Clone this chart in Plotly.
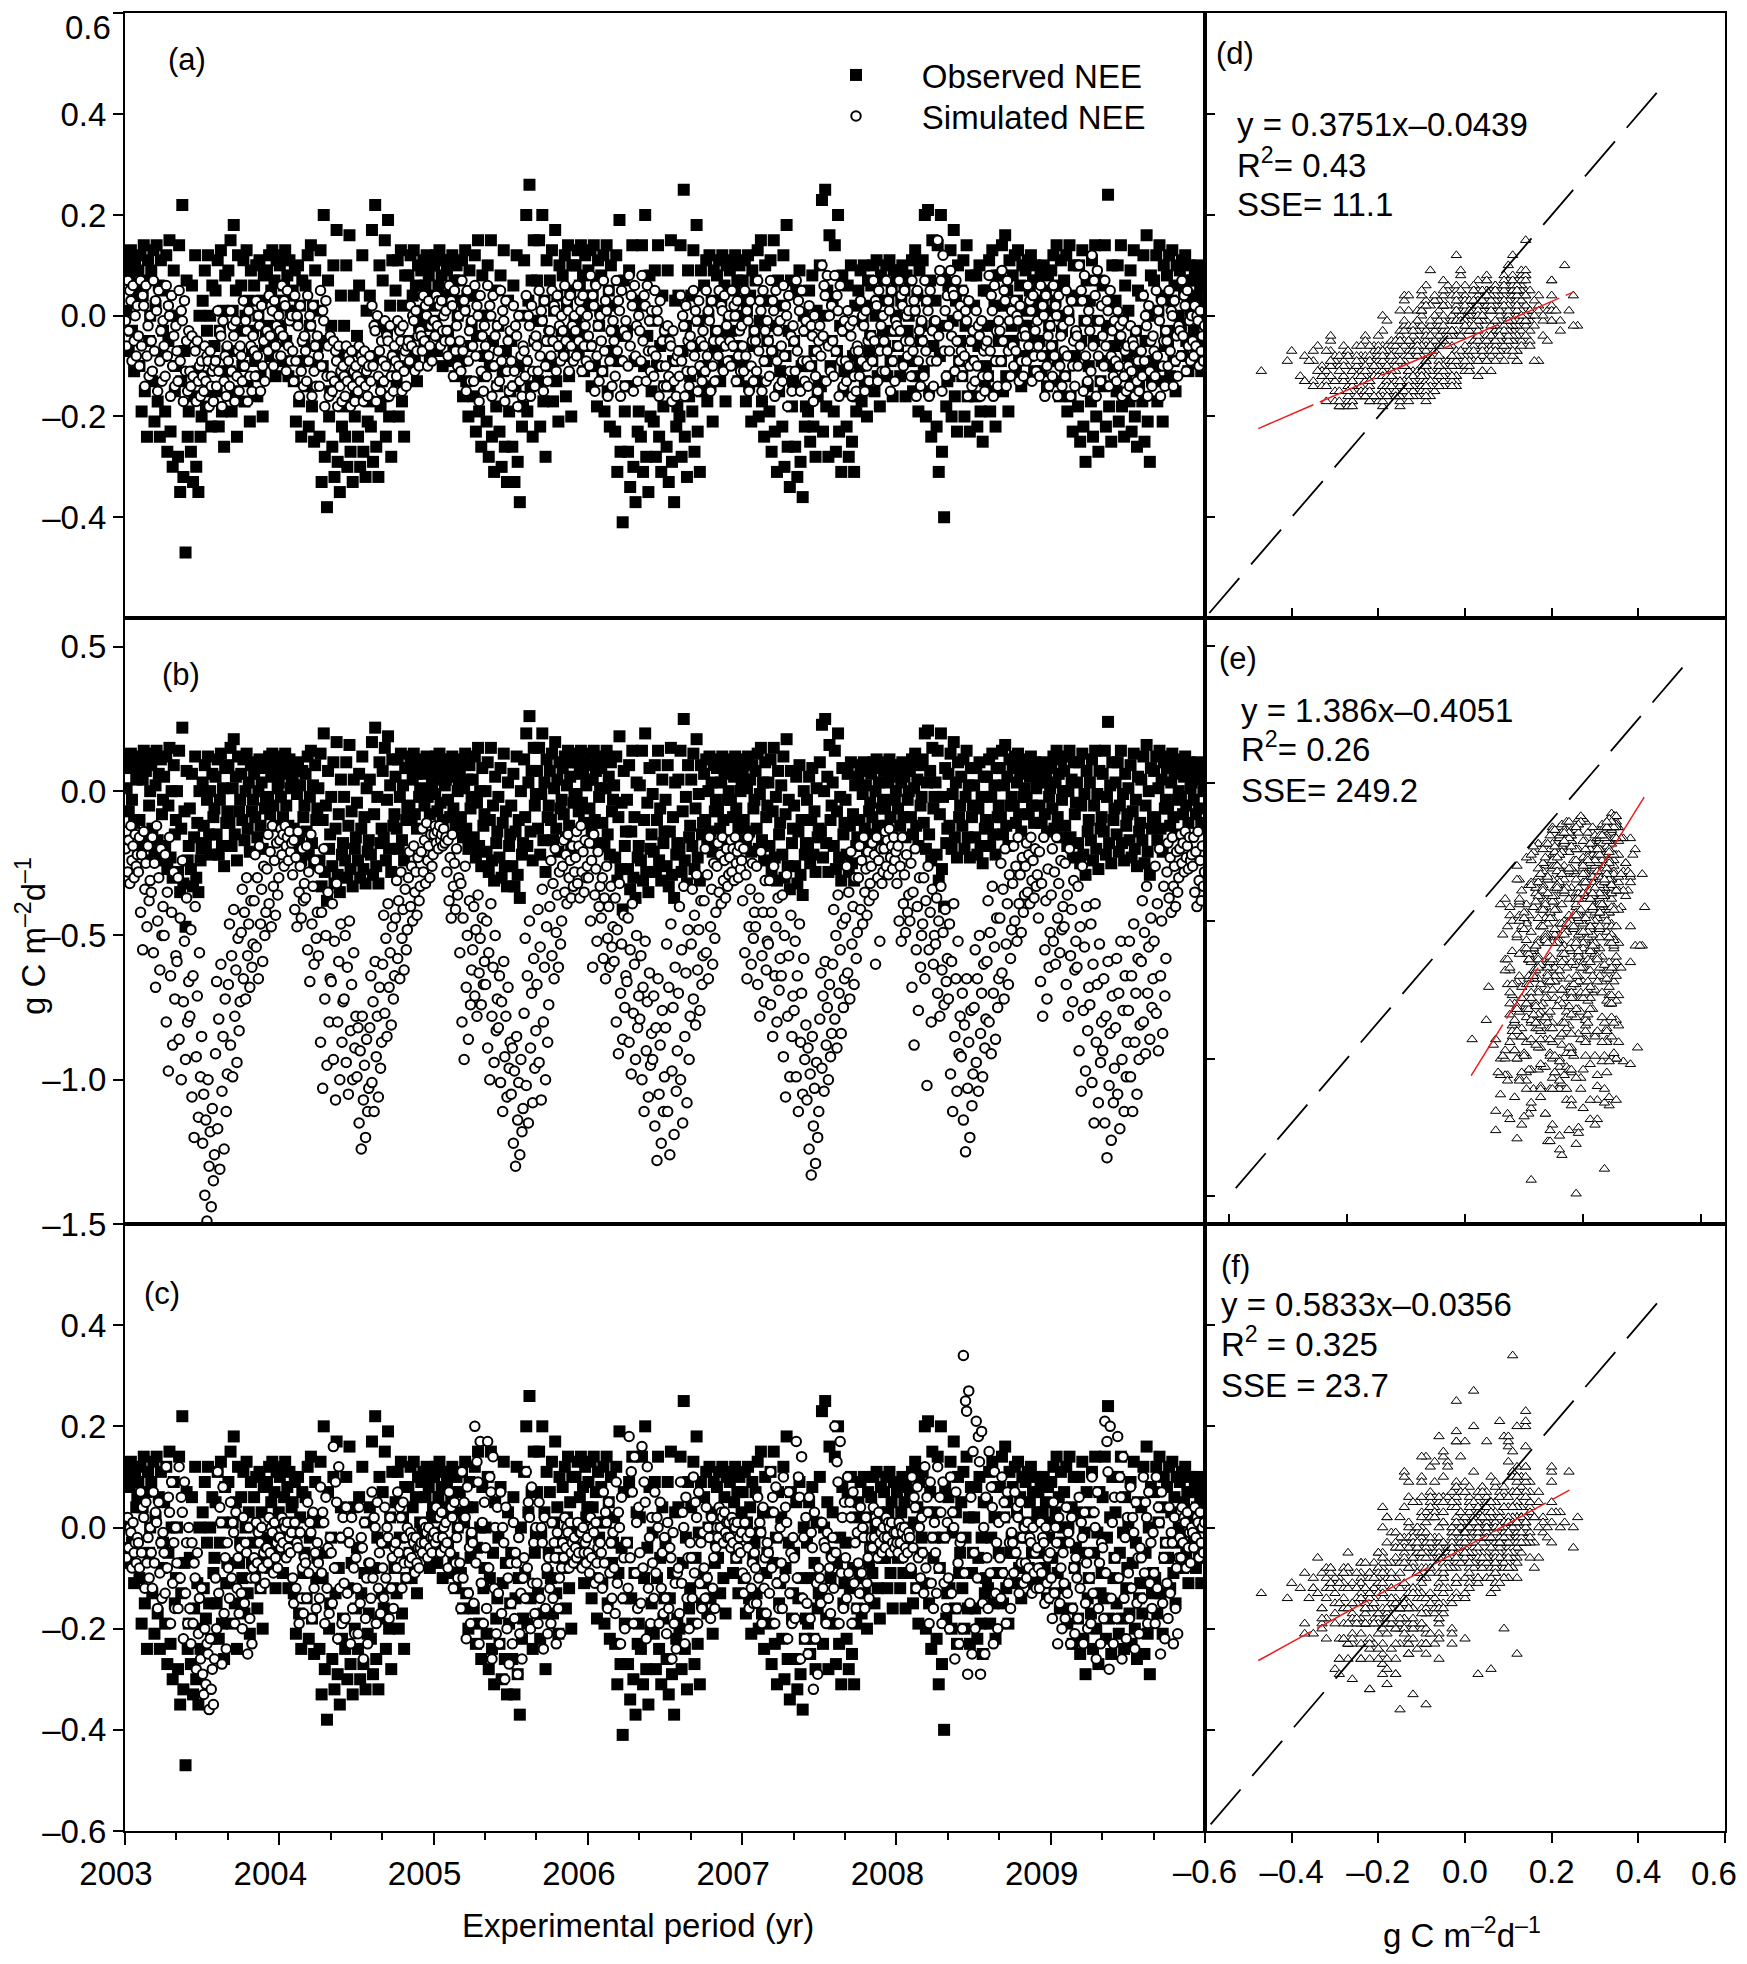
import plotly.graph_objects as go

FONT = "Liberation Sans, Arial, Helvetica, sans-serif"

# ---------------------------------------------------------------------------
# Values, in 0.01 g C m-2 d-1.
# Each year: 12 months x 12 readings, listed from highest to lowest within the month.
# ---------------------------------------------------------------------------
YEARS = [2003, 2004, 2005, 2006, 2007, 2008, 2009]

# Observed NEE (filled squares, panels a-c; x values of panels d-f)
OBS_2003 = [[13, 12, 11, 10, 9, 8, 6, 4, 1, -3, -7, -11], [14, 12, 11, 9, 7, 4, 0, -5, -10, -15, -19, -24],
            [14, 13, 11, 9, 6, 2, -3, -8, -13, -17, -21, -24], [15, 12, 9, 5, 0, -5, -10, -15, -19, -23, -27, -30],
            [22, 14, 7, 0, -7, -13, -19, -24, -28, -32, -35, -47], [12, 6, 0, -6, -11, -16, -20, -24, -27, -30, -33, -35],
            [12, 9, 6, 3, 0, -3, -6, -9, -12, -15, -18, -22], [13, 11, 8, 5, 1, -3, -7, -11, -15, -19, -22, -26],
            [18, 15, 12, 9, 5, 1, -3, -7, -11, -15, -19, -24], [13, 11, 9, 6, 3, 0, -3, -7, -10, -13, -17, -21],
            [11, 10, 8, 6, 3, 0, -3, -6, -9, -12, -16, -20], [13, 12, 11, 9, 7, 5, 3, 1, -2, -5, -8, -12]]
OBS_2004 = [[13, 12, 11, 10, 8, 6, 4, 1, -2, -5, -9, -12], [10, 9, 7, 5, 2, -1, -5, -9, -13, -17, -21, -24],
            [14, 12, 9, 6, 2, -2, -6, -10, -14, -18, -22, -25], [20, 13, 7, 1, -5, -10, -15, -20, -24, -28, -33, -38],
            [17, 10, 4, -2, -8, -13, -18, -22, -26, -29, -32, -35], [16, 10, 4, -2, -7, -12, -16, -20, -24, -27, -30, -33],
            [12, 6, 1, -4, -9, -13, -17, -21, -24, -27, -30, -32], [22, 17, 10, 4, -2, -8, -13, -18, -22, -26, -29, -32],
            [19, 15, 11, 7, 2, -3, -8, -12, -16, -20, -24, -28], [13, 11, 8, 5, 2, -2, -6, -10, -13, -17, -20, -24],
            [13, 12, 10, 8, 6, 4, 1, -2, -5, -8, -10, -13], [12, 11, 10, 9, 8, 6, 4, 2, 0, -2, -5, -8]]
OBS_2005 = [[13, 12, 11, 10, 8, 6, 4, 2, -1, -4, -7, -10], [12, 11, 10, 9, 7, 5, 3, 0, -3, -6, -9, -12],
            [13, 11, 9, 7, 4, 1, -2, -6, -9, -13, -16, -20], [15, 12, 8, 4, 0, -4, -8, -12, -16, -19, -23, -26],
            [15, 10, 5, 0, -5, -10, -14, -18, -21, -24, -28, -31], [13, 8, 3, -2, -7, -11, -15, -19, -23, -26, -30, -33],
            [12, 6, 0, -5, -10, -14, -18, -22, -26, -29, -33, -37], [26, 20, 15, 11, 7, 3, -1, -5, -9, -14, -19, -24],
            [20, 15, 11, 7, 3, -1, -5, -9, -13, -17, -22, -28], [17, 13, 10, 7, 4, 1, -3, -6, -10, -13, -17, -21],
            [14, 12, 10, 8, 5, 2, -1, -4, -8, -12, -16, -20], [14, 13, 12, 10, 8, 6, 4, 2, -1, -4, -7, -11]]
OBS_2006 = [[14, 13, 11, 9, 7, 4, 1, -2, -6, -10, -14, -18], [14, 12, 10, 8, 5, 1, -3, -7, -11, -15, -19, -22],
            [19, 12, 7, 2, -4, -9, -14, -19, -23, -27, -31, -41], [14, 9, 3, -3, -9, -14, -19, -23, -27, -30, -34, -37],
            [20, 14, 8, 2, -4, -10, -15, -20, -24, -28, -31, -35], [14, 9, 4, -1, -6, -10, -14, -18, -21, -24, -28, -31],
            [15, 9, 3, -3, -9, -14, -18, -22, -26, -29, -33, -37], [25, 14, 9, 4, -2, -7, -12, -16, -20, -24, -28, -32],
            [18, 13, 9, 4, -1, -6, -11, -15, -19, -23, -27, -31], [12, 11, 9, 6, 3, 0, -3, -7, -10, -14, -17, -21],
            [12, 11, 10, 8, 6, 3, 0, -3, -6, -10, -13, -17], [12, 11, 10, 9, 7, 5, 3, 0, -3, -6, -9, -13]]
OBS_2007 = [[12, 11, 9, 7, 4, 1, -3, -6, -10, -14, -17, -21], [15, 13, 10, 7, 3, -1, -5, -9, -13, -17, -20, -24],
            [15, 11, 7, 3, -2, -7, -11, -15, -19, -23, -27, -31], [18, 12, 7, 2, -3, -8, -13, -18, -22, -26, -30, -34],
            [9, 5, 0, -5, -10, -14, -18, -22, -26, -29, -32, -36], [8, 5, 1, -3, -7, -10, -13, -16, -19, -22, -25, -28],
            [25, 23, 16, 10, 5, 0, -5, -10, -14, -18, -23, -28], [20, 14, 8, 3, -2, -7, -11, -15, -19, -23, -27, -31],
            [10, 6, 2, -3, -8, -12, -16, -19, -22, -25, -28, -31], [10, 9, 7, 5, 2, -1, -4, -7, -10, -13, -17, -20],
            [11, 10, 8, 6, 3, 0, -3, -6, -9, -12, -15, -18], [11, 10, 9, 7, 5, 3, 0, -3, -6, -9, -12, -16]]
OBS_2008 = [[10, 9, 8, 7, 5, 3, 0, -3, -6, -9, -12, -16], [13, 11, 9, 7, 4, 1, -2, -5, -9, -12, -15, -19],
            [21, 20, 15, 11, 7, 3, -2, -6, -11, -15, -20, -24], [20, 14, 8, 3, -2, -8, -13, -18, -22, -27, -31, -40],
            [17, 13, 10, 6, 3, -1, -5, -9, -12, -16, -20, -23], [14, 11, 8, 5, 2, -2, -5, -9, -12, -16, -20, -23],
            [10, 8, 5, 2, -2, -6, -10, -13, -16, -19, -22, -25], [13, 11, 8, 5, 2, -2, -5, -9, -12, -15, -19, -22],
            [16, 14, 11, 8, 5, 2, -2, -5, -9, -12, -15, -19], [13, 12, 10, 8, 6, 3, 1, -2, -5, -8, -11, -14],
            [12, 11, 10, 9, 7, 5, 3, 1, -2, -5, -8, -11], [10, 9, 8, 7, 5, 3, 1, -2, -5, -8, -11, -14]]
OBS_2009 = [[14, 12, 11, 9, 6, 3, 0, -3, -6, -9, -13, -16], [14, 12, 10, 7, 4, 0, -4, -8, -12, -16, -19, -23],
            [13, 10, 7, 3, -1, -5, -10, -14, -18, -22, -25, -29], [14, 11, 7, 3, -1, -5, -9, -13, -17, -20, -24, -27],
            [24, 14, 10, 6, 2, -2, -6, -10, -14, -18, -22, -25], [14, 10, 6, 3, -1, -5, -8, -12, -15, -18, -21, -24],
            [13, 9, 5, 1, -3, -7, -11, -14, -17, -20, -23, -26], [16, 12, 8, 4, 0, -5, -9, -13, -17, -21, -25, -29],
            [14, 12, 10, 7, 4, 1, -3, -6, -10, -13, -17, -21], [13, 12, 10, 8, 6, 3, 0, -3, -6, -9, -12, -15],
            [12, 11, 10, 9, 7, 5, 3, 1, -2, -5, -8, -11], [10, 9, 8, 7, 6, 4, 2, 0, -3, -6, -8, -11]]

# Simulated NEE, panel (a) (open circles; y values of panel d)
SIM_A_2003 = [[7, 6, 5, 3, 2, 0, -1, -3, -5, -6, -8, -9], [7, 6, 4, 2, 0, -2, -4, -6, -8, -10, -12, -14],
              [7, 5, 3, 1, -1, -3, -5, -7, -9, -11, -13, -15], [6, 4, 2, 0, -2, -4, -6, -8, -10, -12, -14, -16],
              [5, 3, 1, -1, -3, -5, -7, -9, -11, -13, -15, -17], [-4, -5, -6, -7, -9, -10, -11, -12, -13, -14, -16, -17],
              [-6, -7, -8, -9, -10, -11, -12, -13, -14, -15, -17, -18], [1, -1, -3, -4, -6, -8, -9, -11, -13, -14, -16, -18],
              [1, -1, -2, -4, -6, -7, -9, -11, -12, -14, -15, -17], [3, 1, -1, -3, -4, -6, -8, -10, -12, -13, -15, -17],
              [3, 2, 0, -2, -3, -5, -7, -8, -10, -12, -13, -15], [4, 3, 2, 1, 0, -2, -3, -4, -6, -7, -8, -10]]
SIM_A_2004 = [[6, 5, 3, 2, 0, -1, -3, -4, -6, -8, -9, -11], [4, 2, 0, -2, -4, -5, -7, -9, -11, -13, -14, -16],
              [4, 2, 0, -2, -4, -6, -7, -9, -11, -13, -14, -16], [5, 3, 1, -1, -4, -6, -8, -10, -12, -14, -16, -18],
              [-5, -6, -7, -9, -10, -11, -12, -13, -14, -15, -17, -18], [-6, -7, -8, -9, -10, -11, -12, -13, -14, -16, -17, -18],
              [-6, -7, -8, -9, -10, -11, -12, -13, -14, -15, -16, -17], [2, 0, -2, -3, -5, -7, -8, -10, -12, -13, -15, -17],
              [-1, -2, -4, -5, -6, -8, -9, -10, -12, -13, -15, -16], [-1, -2, -3, -5, -6, -7, -9, -10, -11, -12, -14, -15],
              [2, 1, 0, -1, -3, -4, -5, -6, -7, -9, -10, -11], [4, 3, 2, 0, -1, -2, -4, -5, -6, -7, -9, -10]]
SIM_A_2005 = [[4, 3, 3, 2, 1, 0, -1, -2, -3, -4, -5, -6], [6, 5, 3, 2, 0, -2, -3, -5, -7, -8, -10, -12],
              [7, 5, 3, 1, -1, -3, -5, -7, -9, -11, -13, -15], [6, 4, 2, 0, -2, -4, -6, -8, -11, -13, -15, -17],
              [6, 4, 2, 0, -2, -4, -6, -8, -10, -12, -14, -16], [5, 3, 1, -1, -3, -5, -7, -9, -11, -13, -15, -17],
              [2, 0, -2, -4, -6, -8, -9, -11, -13, -14, -16, -18], [4, 2, 0, -2, -4, -5, -7, -9, -11, -12, -14, -16],
              [5, 3, 1, -1, -3, -5, -6, -8, -10, -11, -13, -15], [5, 4, 2, 1, 0, -2, -3, -5, -6, -8, -9, -11],
              [6, 4, 3, 1, 0, -2, -3, -5, -6, -8, -9, -11], [6, 4, 3, 1, 0, -2, -3, -5, -6, -8, -9, -11]]
SIM_A_2006 = [[8, 6, 4, 2, 0, -2, -4, -6, -8, -10, -13, -15], [7, 5, 3, 1, -1, -3, -5, -7, -9, -11, -14, -16],
              [7, 5, 3, 1, -1, -3, -5, -7, -9, -12, -14, -16], [8, 6, 4, 2, 0, -2, -4, -6, -8, -10, -13, -15],
              [8, 6, 4, 2, 1, -1, -3, -5, -7, -9, -11, -13], [5, 3, 1, -1, -3, -5, -7, -8, -10, -12, -14, -16],
              [-2, -3, -5, -6, -8, -9, -10, -12, -13, -14, -16, -17], [4, 2, 0, -2, -4, -5, -7, -9, -11, -12, -14, -16],
              [5, 3, 1, -1, -3, -5, -6, -8, -10, -11, -13, -15], [5, 3, 1, -1, -3, -5, -6, -8, -10, -11, -13, -15],
              [5, 4, 2, 1, 0, -2, -3, -5, -6, -8, -9, -11], [5, 3, 2, 0, -2, -3, -5, -6, -8, -10, -11, -13]]
SIM_A_2007 = [[5, 3, 1, -1, -3, -5, -6, -8, -10, -11, -13, -15], [7, 5, 3, 1, -1, -3, -5, -7, -9, -11, -13, -15],
              [7, 5, 3, 1, -1, -3, -5, -7, -9, -12, -14, -16], [6, 4, 2, 0, -2, -4, -6, -8, -11, -13, -15, -18],
              [7, 5, 3, 1, -1, -3, -5, -7, -9, -11, -13, -15], [2, 0, -2, -4, -5, -7, -9, -10, -12, -14, -15, -17],
              [10, 8, 6, 4, 2, 0, -2, -4, -6, -8, -11, -13], [8, 6, 4, 1, -1, -3, -5, -7, -9, -12, -14, -16],
              [1, -1, -2, -4, -6, -7, -9, -10, -12, -13, -15, -16], [3, 1, 0, -2, -4, -5, -7, -9, -10, -12, -13, -15],
              [7, 5, 3, 2, 0, -2, -4, -5, -7, -9, -11, -13], [7, 5, 3, 1, -1, -3, -5, -7, -9, -11, -13, -15]]
SIM_A_2008 = [[7, 5, 4, 2, 1, 0, -2, -3, -5, -6, -8, -10], [7, 5, 3, 1, -1, -3, -5, -7, -9, -12, -14, -16],
              [7, 5, 3, 1, -1, -3, -5, -7, -9, -12, -14, -16], [15, 12, 9, 7, 4, 1, -1, -4, -7, -9, -12, -15],
              [9, 7, 5, 4, 2, 0, -2, -4, -5, -7, -9, -11], [5, 3, 1, -1, -3, -5, -7, -8, -10, -12, -14, -16],
              [1, -1, -2, -4, -6, -7, -9, -10, -12, -13, -15, -16], [8, 6, 4, 1, -1, -3, -5, -7, -9, -12, -14, -16],
              [9, 7, 5, 3, 1, -1, -3, -5, -7, -9, -12, -14], [3, 2, 0, -1, -3, -4, -6, -7, -9, -10, -12, -13],
              [6, 4, 3, 1, -1, -3, -4, -6, -8, -9, -11, -13], [6, 4, 2, 0, -2, -4, -6, -8, -10, -12, -14, -16]]
SIM_A_2009 = [[6, 4, 2, 0, -2, -4, -6, -8, -10, -12, -14, -16], [5, 3, 1, -1, -3, -5, -7, -8, -10, -12, -14, -16],
              [10, 8, 5, 3, 1, -1, -4, -6, -8, -10, -13, -15], [12, 9, 7, 4, 2, -1, -3, -6, -8, -11, -13, -16],
              [7, 5, 3, 1, -1, -3, -4, -6, -8, -10, -12, -14], [1, -1, -2, -4, -6, -7, -9, -10, -12, -13, -15, -16],
              [-2, -3, -5, -6, -7, -9, -10, -11, -13, -14, -15, -16], [4, 2, 0, -2, -4, -5, -7, -9, -11, -12, -14, -16],
              [5, 3, 1, -1, -3, -5, -7, -8, -10, -12, -14, -16], [5, 3, 1, 0, -2, -4, -5, -7, -9, -10, -12, -14],
              [7, 5, 4, 2, 0, -1, -3, -4, -6, -8, -9, -11], [2, 1, 0, -1, -2, -4, -5, -6, -7, -8, -9, -10]]

# Simulated NEE, panel (b) (open circles; y values of panel e)
SIM_B_2003 = [[-12, -14, -15, -17, -19, -20, -22, -24, -26, -28, -30, -32], [-14, -16, -19, -22, -25, -28, -31, -34, -38, -42, -47, -55],
              [-12, -16, -20, -25, -30, -35, -40, -45, -50, -56, -62, -68], [-16, -22, -28, -35, -42, -50, -57, -64, -72, -80, -88, -97],
              [-24, -30, -37, -44, -52, -59, -66, -73, -80, -86, -93, -100], [-40, -48, -56, -64, -71, -78, -85, -92, -99, -106, -113, -120],
              [-100, -105, -110, -114, -118, -122, -126, -130, -135, -140, -144, -149], [-60, -66, -72, -79, -85, -91, -98, -104, -111, -117, -124, -131],
              [-41, -46, -51, -57, -62, -67, -73, -78, -83, -88, -94, -99], [-30, -34, -38, -42, -46, -49, -53, -57, -61, -65, -68, -72],
              [-19, -22, -26, -30, -34, -38, -42, -46, -50, -54, -59, -65], [-12, -15, -18, -21, -24, -27, -30, -33, -36, -39, -43, -47]]
SIM_B_2004 = [[-12, -13, -14, -15, -16, -17, -18, -19, -21, -22, -24, -26], [-14, -17, -20, -23, -26, -29, -32, -35, -38, -41, -44, -47],
              [-15, -19, -24, -28, -33, -37, -42, -46, -51, -55, -60, -66], [-20, -27, -35, -42, -50, -57, -65, -72, -80, -87, -95, -103],
              [-32, -39, -46, -52, -59, -66, -73, -80, -87, -93, -100, -107], [-45, -50, -56, -61, -67, -72, -78, -83, -89, -94, -100, -105],
              [-78, -82, -86, -90, -95, -99, -103, -107, -111, -115, -120, -124], [-59, -64, -68, -73, -78, -82, -87, -92, -96, -101, -106, -111],
              [-39, -43, -47, -51, -56, -60, -64, -68, -72, -77, -81, -85], [-28, -31, -34, -38, -41, -44, -48, -51, -55, -58, -62, -65],
              [-19, -21, -23, -26, -28, -30, -33, -35, -38, -40, -43, -45], [-11, -13, -15, -17, -19, -21, -22, -24, -26, -28, -30, -32]]
SIM_B_2005 = [[-12, -12, -13, -14, -15, -15, -16, -17, -18, -18, -19, -20], [-15, -17, -20, -23, -25, -28, -30, -33, -36, -38, -41, -44],
              [-26, -32, -38, -44, -50, -56, -62, -68, -74, -80, -86, -93], [-36, -40, -44, -48, -51, -55, -59, -63, -67, -71, -74, -78],
              [-39, -45, -50, -56, -61, -67, -72, -78, -83, -89, -94, -100], [-59, -64, -68, -73, -78, -82, -87, -92, -96, -101, -106, -111],
              [-85, -89, -93, -97, -101, -105, -110, -114, -118, -122, -126, -130], [-45, -51, -58, -64, -70, -77, -83, -89, -96, -102, -108, -115],
              [-34, -41, -47, -54, -61, -67, -74, -80, -87, -94, -100, -107], [-20, -24, -28, -32, -36, -40, -45, -49, -53, -57, -61, -65],
              [-15, -17, -19, -22, -24, -26, -28, -30, -33, -35, -37, -39], [-12, -14, -17, -19, -21, -23, -26, -28, -30, -32, -35, -37]]
SIM_B_2006 = [[-15, -18, -21, -24, -27, -30, -33, -36, -40, -45, -52, -61], [-26, -30, -33, -37, -40, -44, -47, -51, -54, -58, -61, -65],
              [-32, -37, -43, -48, -53, -59, -64, -70, -75, -80, -86, -91], [-39, -44, -50, -55, -60, -66, -71, -77, -82, -87, -93, -98],
              [-52, -57, -63, -68, -73, -79, -84, -90, -95, -100, -106, -111], [-65, -71, -76, -82, -88, -93, -99, -105, -111, -116, -122, -128],
              [-46, -53, -61, -68, -75, -82, -90, -97, -104, -111, -119, -126], [-33, -40, -48, -55, -63, -70, -78, -85, -93, -100, -108, -115],
              [-29, -34, -38, -43, -48, -53, -57, -62, -67, -72, -76, -81], [-16, -20, -25, -29, -34, -38, -42, -47, -51, -56, -60, -65],
              [-16, -18, -20, -22, -24, -26, -29, -31, -33, -35, -37, -39], [-16, -17, -19, -20, -21, -23, -24, -25, -27, -28, -30, -31]]
SIM_B_2007 = [[-16, -20, -25, -29, -34, -38, -42, -47, -51, -56, -60, -65], [-21, -26, -31, -37, -42, -47, -52, -57, -62, -67, -73, -78],
              [-26, -31, -37, -42, -47, -53, -58, -64, -69, -74, -80, -85], [-29, -36, -43, -50, -57, -64, -71, -78, -85, -92, -99, -106],
              [-46, -52, -58, -64, -70, -76, -81, -87, -93, -99, -105, -111], [-85, -89, -94, -98, -103, -107, -111, -116, -120, -124, -129, -133],
              [-59, -63, -67, -71, -75, -79, -84, -88, -92, -96, -100, -104], [-36, -41, -46, -50, -55, -60, -65, -70, -75, -79, -84, -89],
              [-21, -26, -30, -35, -40, -44, -49, -53, -58, -63, -67, -72], [-16, -19, -21, -24, -27, -30, -32, -35, -38, -41, -43, -46],
              [-16, -18, -20, -22, -24, -26, -28, -30, -32, -36, -52, -60], [-13, -14, -16, -17, -19, -20, -21, -23, -24, -26, -27, -29]]
SIM_B_2008 = [[-16, -19, -22, -26, -29, -32, -36, -39, -42, -45, -49, -52], [-20, -25, -30, -35, -40, -45, -50, -55, -61, -68, -76, -88],
              [-26, -30, -34, -38, -42, -46, -50, -55, -60, -65, -80, -102], [-33, -37, -41, -45, -49, -53, -58, -62, -66, -70, -74, -78],
              [-39, -46, -52, -59, -65, -72, -78, -85, -91, -98, -104, -111], [-65, -70, -76, -81, -87, -92, -98, -103, -109, -114, -120, -125],
              [-50, -55, -60, -65, -70, -75, -79, -84, -89, -94, -99, -104], [-33, -38, -44, -49, -54, -59, -65, -70, -75, -80, -86, -91],
              [-20, -25, -29, -34, -39, -44, -48, -53, -58, -63, -67, -72], [-16, -19, -23, -26, -29, -32, -36, -39, -42, -45, -49, -52],
              [-16, -18, -20, -22, -24, -26, -29, -31, -33, -35, -37, -39], [-16, -21, -27, -32, -38, -44, -49, -55, -61, -66, -72, -78]]
SIM_B_2009 = [[-16, -20, -24, -28, -32, -36, -40, -44, -48, -52, -56, -60], [-20, -25, -31, -36, -41, -47, -52, -57, -62, -67, -73, -78],
              [-26, -33, -40, -47, -54, -61, -68, -76, -83, -90, -97, -104], [-39, -46, -53, -60, -67, -74, -80, -87, -94, -101, -108, -115],
              [-59, -65, -71, -78, -84, -90, -96, -102, -108, -115, -121, -127], [-52, -58, -64, -70, -76, -82, -87, -93, -99, -105, -111, -117],
              [-46, -52, -58, -64, -70, -76, -81, -87, -93, -99, -105, -111], [-33, -38, -44, -49, -54, -59, -65, -70, -75, -80, -86, -91],
              [-20, -26, -33, -39, -45, -52, -58, -64, -71, -77, -84, -90], [-16, -18, -21, -23, -26, -28, -30, -33, -35, -37, -40, -42],
              [-14, -15, -16, -18, -19, -20, -22, -23, -24, -25, -27, -28], [-14, -16, -19, -21, -24, -26, -28, -31, -33, -35, -38, -40]]

# Simulated NEE, panel (c) (open circles; y values of panel f)
SIM_C_2003 = [[2, 1, 0, -1, -2, -3, -4, -4, -5, -6, -7, -8], [7, 5, 4, 2, 0, -2, -3, -5, -7, -8, -10, -12],
              [7, 5, 3, 1, -1, -3, -5, -7, -9, -12, -14, -16], [12, 9, 6, 3, 0, -3, -5, -8, -11, -13, -16, -19],
              [12, 9, 6, 3, 0, -3, -7, -10, -13, -16, -19, -22], [-3, -5, -7, -10, -12, -14, -16, -19, -21, -23, -26, -28],
              [-20, -22, -23, -25, -26, -28, -29, -31, -32, -33, -35, -36], [11, 8, 4, 1, -3, -6, -10, -13, -17, -20, -24, -27],
              [5, 3, 1, -1, -4, -6, -8, -10, -12, -14, -17, -19], [2, 0, -3, -5, -8, -10, -13, -15, -18, -20, -23, -25],
              [1, 0, -1, -3, -4, -5, -6, -7, -8, -10, -11, -12], [2, 1, 0, -1, -2, -3, -4, -5, -6, -7, -8, -9]]
SIM_C_2004 = [[2, 1, 1, 0, -1, -2, -2, -3, -4, -4, -5, -6], [1, -1, -3, -4, -6, -8, -10, -12, -14, -15, -17, -19],
              [5, 3, 1, -1, -3, -5, -7, -9, -12, -14, -16, -18], [8, 6, 3, 1, -2, -4, -7, -9, -12, -14, -17, -19],
              [16, 12, 9, 5, 2, -2, -5, -8, -12, -15, -19, -22], [4, 2, -1, -3, -6, -8, -11, -13, -16, -18, -21, -23],
              [4, 1, -2, -4, -7, -10, -12, -15, -18, -21, -23, -26], [7, 5, 2, 0, -3, -5, -7, -10, -12, -14, -17, -19],
              [4, 2, 0, -2, -4, -6, -8, -10, -12, -14, -16, -18], [7, 5, 4, 2, 0, -2, -3, -5, -7, -8, -10, -12],
              [-1, -2, -2, -3, -4, -4, -5, -6, -7, -7, -8, -9], [1, 0, 0, -1, -2, -2, -3, -3, -4, -5, -5, -6]]
SIM_C_2005 = [[4, 3, 2, 2, 1, 0, -1, -2, -2, -3, -4, -5], [7, 5, 4, 2, 0, -2, -3, -5, -7, -8, -10, -12],
              [11, 8, 5, 2, -1, -4, -7, -10, -13, -16, -19, -22], [20, 17, 13, 9, 5, 1, -3, -7, -11, -15, -19, -23],
              [17, 14, 10, 7, 4, 0, -4, -8, -12, -16, -21, -26], [7, 4, 0, -3, -7, -10, -13, -17, -20, -23, -27, -30],
              [1, -2, -5, -7, -10, -13, -15, -18, -21, -23, -26, -29], [11, 8, 5, 2, 0, -3, -6, -8, -11, -14, -17, -20],
              [5, 2, 0, -3, -6, -8, -11, -14, -16, -19, -21, -24], [1, -1, -3, -6, -8, -10, -12, -14, -16, -19, -21, -23],
              [2, 1, 0, -1, -2, -3, -3, -4, -5, -6, -7, -8], [1, 0, -1, -1, -2, -3, -4, -5, -5, -6, -7, -8]]
SIM_C_2006 = [[2, 1, 0, -1, -3, -4, -5, -6, -7, -9, -10, -11], [7, 5, 3, 1, -1, -3, -5, -7, -9, -12, -14, -16],
              [9, 6, 3, 0, -3, -6, -8, -11, -14, -17, -20, -23], [18, 14, 11, 7, 4, 1, -3, -6, -9, -12, -16, -19],
              [16, 12, 9, 5, 2, -2, -5, -8, -12, -15, -19, -22], [7, 5, 2, 0, -2, -5, -7, -9, -12, -14, -17, -19],
              [1, -1, -4, -6, -9, -11, -14, -16, -19, -21, -24, -26], [9, 6, 3, 0, -3, -6, -8, -11, -14, -17, -20, -23],
              [10, 7, 5, 2, -1, -3, -6, -9, -11, -14, -16, -19], [4, 2, 0, -2, -4, -6, -8, -10, -12, -14, -16, -18],
              [4, 3, 3, 2, 1, 1, 0, 0, -1, -2, -2, -3], [2, 1, 1, 0, -1, -2, -2, -3, -4, -4, -5, -6]]
SIM_C_2007 = [[1, -1, -2, -4, -5, -7, -9, -10, -12, -13, -15, -16], [6, 4, 1, -1, -3, -6, -8, -10, -12, -15, -17, -19],
              [11, 8, 6, 3, 0, -2, -5, -8, -11, -13, -16, -19], [10, 7, 4, 1, -2, -5, -7, -10, -13, -16, -19, -22],
              [17, 14, 10, 6, 2, -2, -6, -10, -14, -18, -22, -26], [6, 3, -1, -4, -8, -11, -15, -18, -22, -25, -29, -32],
              [1, -1, -3, -4, -6, -8, -10, -12, -14, -15, -17, -19], [20, 17, 13, 9, 5, 2, -2, -5, -9, -12, -16, -19],
              [10, 7, 5, 2, -1, -3, -6, -9, -11, -14, -16, -19], [4, 2, 0, -2, -4, -6, -7, -9, -11, -13, -14, -16],
              [4, 3, 2, 1, 0, -1, -2, -2, -3, -4, -5, -6], [2, 1, 1, 0, -1, -1, -2, -2, -3, -4, -4, -5]]
SIM_C_2008 = [[1, 0, 0, -1, -1, -2, -3, -3, -4, -5, -5, -6], [10, 8, 6, 4, 2, 0, -2, -4, -6, -8, -10, -12],
              [12, 9, 6, 3, 1, -2, -5, -8, -11, -13, -16, -19], [12, 9, 6, 3, 1, -2, -5, -8, -11, -13, -16, -19],
              [10, 7, 3, 0, -3, -7, -10, -13, -16, -20, -23, -26], [34, 27, 25, 23, 15, 6, -2, -9, -15, -20, -25, -29],
              [21, 19, 18, 13, 6, 0, -5, -10, -15, -20, -25, -29], [15, 11, 8, 4, 1, -3, -6, -9, -13, -16, -20, -23],
              [10, 7, 5, 2, -1, -3, -6, -9, -11, -14, -16, -19], [7, 5, 4, 2, 0, -2, -3, -5, -7, -9, -11, -13],
              [1, 0, -2, -3, -4, -5, -7, -8, -9, -10, -12, -13], [1, 0, -2, -3, -5, -6, -8, -9, -11, -12, -14, -15]]
SIM_C_2009 = [[5, 2, 0, -3, -5, -8, -10, -13, -15, -18, -20, -23], [4, 2, -1, -3, -6, -8, -11, -13, -16, -18, -21, -23],
              [6, 3, 1, -2, -5, -7, -10, -12, -15, -18, -20, -23], [10, 7, 3, 0, -3, -7, -10, -13, -16, -19, -23, -26],
              [21, 20, 17, 11, 6, 1, -4, -9, -14, -18, -23, -28], [18, 14, 10, 6, 2, -2, -6, -10, -14, -18, -22, -26],
              [8, 5, 2, -1, -4, -6, -9, -12, -15, -18, -21, -24], [10, 7, 5, 2, -1, -3, -6, -9, -11, -14, -16, -19],
              [10, 7, 4, 1, -3, -6, -9, -12, -15, -19, -22, -25], [4, 2, -1, -3, -6, -8, -11, -13, -16, -18, -21, -23],
              [4, 3, 2, 1, 0, -1, -2, -3, -4, -6, -7, -8], [4, 3, 2, 1, 1, 0, -1, -2, -3, -4, -5, -6]]

OBS = [OBS_2003, OBS_2004, OBS_2005, OBS_2006, OBS_2007, OBS_2008, OBS_2009]
SIM_A = [SIM_A_2003, SIM_A_2004, SIM_A_2005, SIM_A_2006, SIM_A_2007, SIM_A_2008, SIM_A_2009]
SIM_B = [SIM_B_2003, SIM_B_2004, SIM_B_2005, SIM_B_2006, SIM_B_2007, SIM_B_2008, SIM_B_2009]
SIM_C = [SIM_C_2003, SIM_C_2004, SIM_C_2005, SIM_C_2006, SIM_C_2007, SIM_C_2008, SIM_C_2009]

# day-slot within each month at which each reading (by rank) is plotted
OBS_ORDER = [3, 8, 1, 10, 5, 0, 9, 4, 11, 2, 7, 6]
SIM_AC_ORDER = [6, 9, 0, 7, 2, 3, 11, 1, 8, 5, 10, 4]
SIM_B_ORDER = [5, 1, 9, 3, 11, 0, 7, 4, 10, 2, 8, 6]

# tick values and labels
YEAR_TICKS = [2003, 2004, 2005, 2006, 2007, 2008, 2009]
YEAR_LABELS = ["2003", "2004", "2005", "2006", "2007", "2008", "2009"]
MINOR_YEAR_TICKS = [2003.333, 2003.667, 2004.333, 2004.667, 2005.333, 2005.667, 2006.333, 2006.667,
                    2007.333, 2007.667, 2008.333, 2008.667, 2009.333, 2009.667]
YA_TICKS = [0.6, 0.4, 0.2, 0.0, -0.2, -0.4]
YA_LABELS = ["", "0.4", "0.2", "0.0", "\u20130.2", "\u20130.4"]
YA_TOP_LABEL = "0.6"
YB_TICKS = [0.5, 0.0, -0.5, -1.0, -1.5]
YB_LABELS = ["0.5", "0.0", "\u20130.5", "\u20131.0", "\u20131.5"]
YC_TICKS = [0.4, 0.2, 0.0, -0.2, -0.4, -0.6]
YC_LABELS = ["0.4", "0.2", "0.0", "\u20130.2", "\u20130.4", "\u20130.6"]
SC_TICKS = [-0.4, -0.2, 0.0, 0.2, 0.4]
SE_TICKS = [-1.5, -1.0, -0.5, 0.0, 0.5]
XF_TICKS = [-0.6, -0.4, -0.2, 0.0, 0.2, 0.4, 0.6]
XF_LABELS = ["\u20130.6", "\u20130.4", "\u20130.2", "0.0", "0.2", "0.4", ""]
XF_LAST_LABEL = "0.6"

# 1:1 lines and regression lines (end points)
ONE_D = [-0.59, 0.46]
ONE_E = [-1.47, 0.44]
ONE_F = [-0.587, 0.459]
FIT_D_X = [-0.477, 0.25]
FIT_D_Y = [-0.224, 0.047]
FIT_E_X = [-0.474, 0.258]
FIT_E_Y = [-1.061, -0.05]
FIT_F_X = [-0.477, 0.241]
FIT_F_Y = [-0.263, 0.074]


def monthly(chunks, order):
    """Return {(year, month): [(time, value), ...]} with readings placed at day slots."""
    out = {}
    for year, months in zip(YEARS, chunks):
        for m, vals in enumerate(months):
            slots = [i for i in order if i < len(vals)]
            n = len(slots)
            pts = []
            for k, idx in enumerate(slots):
                pts.append((year + (m + (k + 0.5) / n) / 12.0, vals[idx] / 100.0))
            out[(year, m)] = pts
    return out


def flat(d):
    xs, ys = [], []
    for key in sorted(d):
        for t, v in d[key]:
            xs.append(t)
            ys.append(v)
    return xs, ys


def pairs(da, db):
    xs, ys = [], []
    for key in sorted(da):
        for (ta, va), (tb, vb) in zip(da[key], db.get(key, [])):
            xs.append(va)
            ys.append(vb)
    return xs, ys


M_OBS = monthly(OBS, OBS_ORDER)
M_A = monthly(SIM_A, SIM_AC_ORDER)
M_B = monthly(SIM_B, SIM_B_ORDER)
M_C = monthly(SIM_C, SIM_AC_ORDER)

SQ = dict(symbol="square", size=12, color="black", line=dict(width=0))
CI = dict(symbol="circle", size=9.5, color="white", line=dict(color="black", width=2))
TRI = dict(symbol="triangle-up", size=9, color="white", line=dict(color="black", width=1))
ONE_LINE = dict(color="black", width=1.8, dash="46px,18px")
FIT_LINE = dict(color="#ee1c1c", width=1.5, dash="60px,7px")

LEG_PAD = "\u00a0" * 5

fig = go.Figure()


def add_time_panel(xa, ya, msim, legend):
    tx, ty = flat(M_OBS)
    sx, sy = flat(msim)
    fig.add_trace(go.Scatter(x=tx, y=ty, mode="markers", marker=SQ, name=LEG_PAD + "Observed NEE",
                             xaxis=xa, yaxis=ya, showlegend=legend, legend="legend",
                             hoverinfo="skip"))
    fig.add_trace(go.Scatter(x=sx, y=sy, mode="markers", marker=CI, name=LEG_PAD + "Simulated NEE",
                             xaxis=xa, yaxis=ya, showlegend=legend, legend="legend2",
                             hoverinfo="skip"))


def add_scatter_panel(xa, ya, msim, one, fx, fy):
    px, py = pairs(M_OBS, msim)
    fig.add_trace(go.Scatter(x=px, y=py, mode="markers", marker=TRI, xaxis=xa, yaxis=ya,
                             showlegend=False, hoverinfo="skip"))
    fig.add_trace(go.Scatter(x=one, y=one, mode="lines", line=ONE_LINE, xaxis=xa, yaxis=ya,
                             showlegend=False, hoverinfo="skip"))
    fig.add_trace(go.Scatter(x=fx, y=fy, mode="lines", line=FIT_LINE, xaxis=xa, yaxis=ya,
                             showlegend=False, hoverinfo="skip"))


add_time_panel("x", "y", M_A, True)
add_time_panel("x2", "y2", M_B, False)
add_time_panel("x3", "y3", M_C, False)
add_scatter_panel("x4", "y4", M_A, ONE_D, FIT_D_X, FIT_D_Y)
add_scatter_panel("x5", "y5", M_B, ONE_E, FIT_E_X, FIT_E_Y)
add_scatter_panel("x6", "y6", M_C, ONE_F, FIT_F_X, FIT_F_Y)

# figure is placed 8 px inside the page (default body margin)
FIG_W, FIG_H = 1731, 1948
XL = [0.06759, 0.69151]
XR = [0.69151, 0.99191]
YA = [0.68686, 0.99718]
YB = [0.37577, 0.68686]
YC = [0.06417, 0.37577]


def ax(**kw):
    d = dict(showline=True, linecolor="black", linewidth=2, mirror=True, showgrid=False,
             zeroline=False, ticks="", showticklabels=False, tickcolor="black", tickwidth=2,
             ticklen=10, tickfont=dict(family=FONT, size=33, color="black"), fixedrange=True,
             automargin=False, ticklabeloverflow="allow")
    d.update(kw)
    return d


LEGEND_STYLE = dict(xanchor="left", yanchor="middle", bgcolor="rgba(0,0,0,0)", borderwidth=0,
                    font=dict(family=FONT, size=33, color="black"), itemwidth=30)

fig.update_layout(
    template="none",
    width=FIG_W, height=FIG_H, autosize=False,
    margin=dict(l=0, r=0, t=0, b=0, pad=0),
    paper_bgcolor="white", plot_bgcolor="white",
    font=dict(family=FONT, size=33, color="black"),
    hovermode=False,
    xaxis=ax(domain=XL, range=[2003, 2010], anchor="y"),
    yaxis=ax(domain=YA, range=[-0.6, 0.6], anchor="x", ticks="outside", showticklabels=True,
             tickvals=YA_TICKS, ticktext=YA_LABELS),
    xaxis2=ax(domain=XL, range=[2003, 2010], anchor="y2"),
    yaxis2=ax(domain=YB, range=[-1.5, 0.6], anchor="x2", ticks="outside", showticklabels=True,
              tickvals=YB_TICKS, ticktext=YB_LABELS),
    xaxis3=ax(domain=XL, range=[2003, 2010], anchor="y3", ticks="outside", ticklen=12,
              showticklabels=True, tickvals=YEAR_TICKS, ticktext=YEAR_LABELS, ticklabelshift=-9,
              minor=dict(ticks="outside", ticklen=7, tickwidth=2, tickcolor="black",
                         tickvals=MINOR_YEAR_TICKS)),
    yaxis3=ax(domain=YC, range=[-0.6, 0.6], anchor="x3", ticks="outside", showticklabels=True,
              tickvals=YC_TICKS, ticktext=YC_LABELS),
    xaxis4=ax(domain=XR, range=[-0.6, 0.6], anchor="y4", ticks="inside", tickvals=SC_TICKS),
    yaxis4=ax(domain=YA, range=[-0.6, 0.6], anchor="x4", ticks="inside", tickvals=SC_TICKS),
    xaxis5=ax(domain=XR, range=[-1.6, 0.6], anchor="y5", ticks="inside", tickvals=SE_TICKS),
    yaxis5=ax(domain=YB, range=[-1.6, 0.6], anchor="x5", ticks="inside", tickvals=SE_TICKS),
    xaxis6=ax(domain=XR, range=[-0.6, 0.6], anchor="y6", ticks="outside", showticklabels=True,
              tickvals=XF_TICKS, ticktext=XF_LABELS),
    yaxis6=ax(domain=YC, range=[-0.6, 0.6], anchor="x6", ticks="inside", tickvals=SC_TICKS),
    legend=dict(x=0.47834, y=0.96561, **LEGEND_STYLE),
    legend2=dict(x=0.47834, y=0.94456, **LEGEND_STYLE),
)


def note(text, x, y, size=33, xanchor="left", angle=0, yanchor="middle", borderpad=1):
    fig.add_annotation(text=text, x=x, y=y, xref="paper", yref="paper", showarrow=False,
                       xanchor=xanchor, yanchor=yanchor, textangle=angle, borderpad=borderpad,
                       font=dict(family=FONT, size=size, color="black"))


# panel letters
note("(a)", 0.10341, 0.97331, size=31, xanchor="center")
note("(b)", 0.09994, 0.65791, size=31, xanchor="center")
note("(c)", 0.08914, 0.34009, size=31, xanchor="center")
note("(d)", 0.70907, 0.97639, size=31, xanchor="center")
note("(e)", 0.71057, 0.66632, size=31, xanchor="center")
note("(f)", 0.70907, 0.35370, size=31, xanchor="center")

# regression statistics
note("y = 0.3751x\u20130.0439", 0.70884, 0.94045)
note("R<sup>2</sup>= 0.43", 0.70884, 0.92043)
note("SSE= 11.1", 0.70884, 0.89938)
note("y = 1.386x\u20130.4051", 0.71115, 0.63963)
note("R<sup>2</sup>= 0.26", 0.71115, 0.62064)
note("SSE= 249.2", 0.71115, 0.59856)
note("y = 0.5833x\u20130.0356", 0.69960, 0.33470)
note("R<sup>2</sup> = 0.325", 0.69960, 0.31520)
note("SSE = 23.7", 0.69960, 0.29312)

# edge tick labels kept inside the page
note(YA_TOP_LABEL, 0.06008, 1.0, xanchor="right", yanchor="top", borderpad=0)
note(XF_LAST_LABEL, 1.0, 0.04235, xanchor="right")

# axis titles
note("g C m<sup>\u20132</sup>d<sup>\u20131</sup>", 0.0, 0.52361, xanchor="left", angle=-90)
note("Experimental period (yr)", 0.36395, 0.01591, xanchor="center")
note("g C m<sup>\u20132</sup>d<sup>\u20131</sup>", 0.83974, 0.0, xanchor="center", yanchor="bottom")

fig.write_html("out.html", config={"displayModeBar": False, "staticPlot": True})
